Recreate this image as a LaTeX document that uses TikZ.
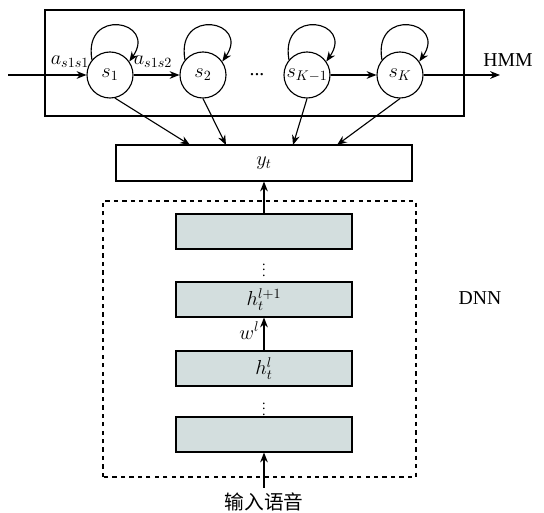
\documentclass[tikz,border=0pt]{standalone}
\usepackage{fontspec}
\setmainfont{Liberation Serif}
\newfontfamily\cjk{Noto Sans CJK SC}
\usepackage{tikz}
\usetikzlibrary{arrows.meta,positioning}
\definecolor{layergray}{RGB}{211,222,222}
\def\selfloop#1{\draw[arr] (#1.140) .. controls +(100:1.35cm) and +(55:1.25cm) .. (#1.35)}
\tikzstyle{state}=[circle,draw,line width=0.8pt,minimum size=1.15cm,inner sep=0pt]
\tikzstyle{layer}=[rectangle,draw,line width=0.8pt,fill=layergray,minimum width=4.4cm,minimum height=0.875cm]
\tikzstyle{outbox}=[rectangle,draw,line width=0.8pt,minimum width=7.4cm,minimum height=0.9cm]
\tikzstyle{arr}=[-{Stealth[length=7pt,width=5.5pt]},line width=0.8pt]
\tikzstyle{frame}=[draw,line width=0.8pt]
\tikzstyle{vdot}=[inner sep=0pt,font=\fontsize{10}{10}\selectfont]

\begin{document}
\begin{tikzpicture}[x=0.025cm,y=0.025cm,font=\fontsize{14}{16}\selectfont]
    \useasboundingbox (0,0) rectangle (544,512);
    % HMM part
    \draw[frame] (45,396) rectangle (464,502);
    \node[state] (s1) at (110,437) {$s_1$};
    \node[state] (s2) at (203,437) {$s_2$};
    \node[state] (sk1) at (307,437) {$s_{K-1}$};
    \node[state] (sk) at (400,437) {$s_K$};
    \node (dots) at (257,437) {...};
    \coordinate (in) at (8,437);
    \coordinate (hout) at (500,437);
    \draw[arr] (in) -- (s1);
    \draw[arr] (s1) -- (s2);
    \draw[arr] (sk1) -- (sk);
    \draw[arr] (sk) -- (hout);
    \foreach \s in {s1,s2,sk1,sk} {\selfloop{\s};}
    \node (a11) at (70,450) {$a_{s1s1}$};
    \node (a12) at (153,450) {$a_{s1s2}$};
    \node (hmm) at (508,452) {HMM};
    % output
    \node[outbox] (yt) at (264,349) {$y_t$};
    \coordinate (t1) at (190,367);
    \coordinate (t2) at (226,367);
    \coordinate (t3) at (293,367);
    \coordinate (t4) at (337,367);
    \draw[arr] (s1.-78) -- (t1);
    \draw[arr] (s2.south) -- (t2);
    \draw[arr] (sk1.south) -- (t3);
    \draw[arr] (sk.south) -- (t4);
    % DNN part
    \draw[frame,dashed] (103,35) rectangle (416,311);
    \node[layer] (l4) at (264,280.5) {};
    \node[layer] (l3) at (264,212.5) {$h_t^{l+1}$};
    \node[layer] (l2) at (264,143.5) {$h_t^{l}$};
    \node[layer] (l1) at (264,77.5) {};
    \node[vdot] (v1) at (264,246) {$\vdots$};
    \node[vdot] (v2) at (264,107) {$\vdots$};
    \node (dnn) at (480,214) {DNN};
    \node (speech) at (264,10) {\cjk 输入语音};
    \draw[arr] (l4) -- (yt);
    \draw[arr] (l2) -- node[left,pos=0.6,inner sep=3pt] {$w^l$} (l3);
    \draw[arr] (speech) -- (l1);
\end{tikzpicture}
\end{document}
